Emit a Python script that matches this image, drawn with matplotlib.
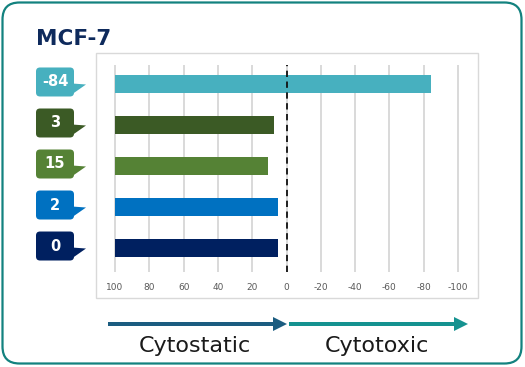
import matplotlib
matplotlib.use("Agg")
import matplotlib.pyplot as plt
from matplotlib.patches import FancyBboxPatch, Polygon, FancyArrow, Rectangle

# data
title = "MCF-7"
badge_labels = ["-84", "3", "15", "2", "0"]
bar_values = [-84, 7, 11, 5, 5]
bar_colors = ["#47B0BF", "#3B5A25", "#558235", "#0071C1", "#002060"]
xticks = [100, 80, 60, 40, 20, 0, -20, -40, -60, -80, -100]
arrow_texts = ["Cytostatic", "Cytotoxic"]

W, H = 525, 367


def px_rect(x0, y0, x1, y1):
    return [x0 / W, 1 - y1 / H, (x1 - x0) / W, (y1 - y0) / H]


fig = plt.figure(figsize=(W / 100, H / 100), dpi=100)
fig.patch.set_facecolor("white")

# background layer in pixel coords (y down)
bg = fig.add_axes([0, 0, 1, 1], zorder=0)
bg.set_xlim(0, W)
bg.set_ylim(H, 0)
bg.axis("off")

# outer rounded border
bg.add_patch(FancyBboxPatch((2.5, 2.5), 519, 361,
                            boxstyle="round,pad=0,rounding_size=17",
                            fc="white", ec="#13827F", lw=1.6))
# chart area frame
bg.add_patch(Rectangle((96, 53), 382, 245, fc="none", ec="#D9D9D9", lw=1.0))

bg.text(36, 45, title, fontsize=15.5, fontweight="bold", color="#0E2A5C",
        family="DejaVu Sans", va="baseline", ha="left")

# bar chart
ax = fig.add_axes(px_rect(109.9, 65, 463.1, 272), zorder=1)
ax.patch.set_alpha(0)
pos = list(range(len(bar_values)))
ax.barh(pos, [v - 100 for v in bar_values], left=100, height=0.42,
        color=bar_colors, zorder=2)
ax.set_xlim(103, -103)
ax.set_ylim(4.585, -0.463)
ax.set_xticks(xticks)
ax.set_xticklabels([str(t) for t in xticks])
ax.set_yticks([])
ax.tick_params(axis="x", length=0, pad=8, labelsize=6.5, labelcolor="#595959")
ax.grid(axis="x", color="#D9D9D9", lw=1.4, zorder=0)
ax.axvline(0, color="#111111", ls=(0, (3.5, 2.5)), lw=1.3, zorder=3)
for s in ax.spines.values():
    s.set_visible(False)

# callout badges next to each bar
for i, (lab, c) in enumerate(zip(badge_labels, bar_colors)):
    yc = H - ax.transData.transform((0, i))[1] - 2
    bg.add_patch(Polygon([(72, yc + 1.5), (86, yc + 2.5), (71, yc + 13)],
                         closed=True, fc=c, ec="none"))
    bg.add_patch(FancyBboxPatch((36, yc - 14.5), 38, 29,
                                boxstyle="round,pad=0,rounding_size=4",
                                fc=c, ec="none"))
    bg.text(55, yc, lab, color="white", fontsize=10.5, fontweight="bold",
            ha="center", va="center", family="DejaVu Sans")

# arrows underneath
bg.add_patch(FancyArrow(108, 324, 179, 0, width=4, head_width=14,
                        head_length=14, length_includes_head=True,
                        color="#1B5C80", lw=0))
bg.add_patch(FancyArrow(289, 324, 179, 0, width=4, head_width=14,
                        head_length=14, length_includes_head=True,
                        color="#159290", lw=0))
bg.text(195, 352, arrow_texts[0], fontsize=16, color="#1A1A1A",
        ha="center", va="baseline", family="DejaVu Sans")
bg.text(377, 352, arrow_texts[1], fontsize=16, color="#1A1A1A",
        ha="center", va="baseline", family="DejaVu Sans")

fig.savefig("out.png", dpi=100, facecolor="white")
